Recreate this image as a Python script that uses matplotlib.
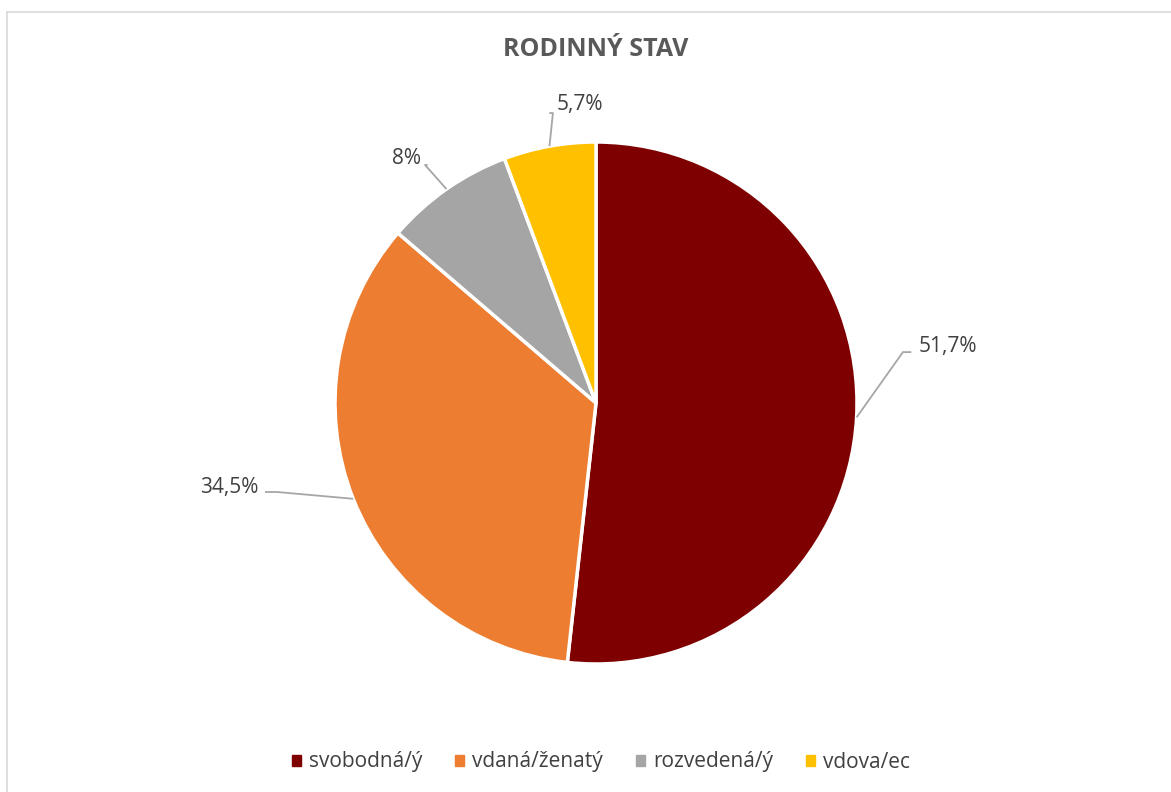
import matplotlib.pyplot as plt
import numpy as np
from matplotlib.lines import Line2D

categories = ["svobodná/ý", "vdaná/ženatý", "rozvedená/ý", "vdova/ec"]
values = [51.7, 34.5, 8.0, 5.7]
labels = ["51,7%", "34,5%", "8%", "5,7%"]
colors = ["#7F0000", "#ED7D31", "#A5A5A5", "#FFC000"]

# label layout in pie-radius units: (elbow, text anchor, ha)
LABEL_LAYOUT = [
    ((1.176, 0.195), (1.235, 0.215), "left"),
    ((-1.222, -0.341), (-1.295, -0.325), "right"),
    ((-0.655, 0.912), (-0.672, 0.938), "right"),
    ((-0.165, 1.111), (-0.152, 1.142), "left"),
]

plt.rcParams["font.family"] = ["Open Sans", "DejaVu Sans"]
TEXT_COLOR = "#404040"

fig = plt.figure(figsize=(11.71, 7.92), dpi=100)
fig.patch.set_facecolor("white")

# axes covering whole figure, 261 px per pie-radius unit, centre at (596, 403)
ax = fig.add_axes([0, 0, 1, 1])
W, H, R, CX, CY = 1171, 792, 261, 596, 403

wedges, _ = ax.pie(
    values, colors=colors, startangle=90, counterclock=False, radius=1,
    wedgeprops=dict(edgecolor="white", linewidth=2.5),
)
ax.set_xlim(-CX / R, (W - CX) / R)
ax.set_ylim((CY - H) / R, CY / R)
ax.set_aspect("equal")
ax.axis("off")

for w, lab, (elbow, txt, ha) in zip(wedges, labels, LABEL_LAYOUT):
    mid = np.deg2rad((w.theta1 + w.theta2) / 2)
    edge = (np.cos(mid), np.sin(mid))
    end_x = txt[0] - 0.027 if ha == "left" else txt[0] + 0.027
    ax.plot([edge[0], elbow[0], end_x], [edge[1], elbow[1], elbow[1]],
            color="#A6A6A6", linewidth=1.3, solid_capstyle="butt")
    ax.text(txt[0], txt[1], lab, ha=ha, va="center", fontsize=15, color=TEXT_COLOR)

fig.text(596 / W, 1 - 49 / H, "RODINNÝ STAV", ha="center", va="center",
         fontsize=18, fontweight="bold", color="#595959")

# chart frame (top and left edges visible)
fig.add_artist(Line2D([7 / W, 7 / W], [0, 1 - 12 / H], color="#D9D9D9", linewidth=1.2))
fig.add_artist(Line2D([7 / W, 1], [1 - 12 / H, 1 - 12 / H], color="#D9D9D9", linewidth=1.2))

handles = [plt.Rectangle((0, 0), 1, 1, color=c) for c in colors]
leg = fig.legend(handles, categories, loc="center", bbox_to_anchor=(601 / W, 1 - 762 / H),
                 ncol=4, frameon=False, fontsize=15, handlelength=0.43, handleheight=0.43,
                 handletextpad=0.38, columnspacing=1.6, labelcolor=TEXT_COLOR)

fig.savefig("out.png", dpi=100, facecolor="white")
